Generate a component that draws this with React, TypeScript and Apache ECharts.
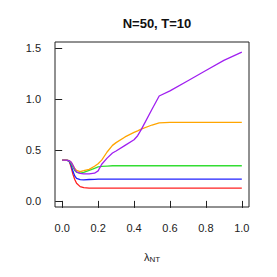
import React, { useEffect, useRef } from "react";
import * as echarts from "echarts";

const lambdas = [0, 0.02, 0.03, 0.04, 0.05, 0.06, 0.07, 0.08, 0.1, 0.12, 0.15, 0.18, 0.2, 0.22, 0.25, 0.28, 0.3, 0.35, 0.4, 0.42, 0.44, 0.5, 0.54, 0.6, 0.7, 0.8, 0.9, 1.0];
const redVals = [0.40, 0.40, 0.398, 0.385, 0.33, 0.26, 0.21, 0.173, 0.14, 0.13, 0.126, 0.125, 0.125, 0.125, 0.125, 0.125, 0.125, 0.125, 0.125, 0.125, 0.125, 0.125, 0.125, 0.125, 0.125, 0.125, 0.125, 0.125];
const blueVals = [0.40, 0.40, 0.398, 0.385, 0.35, 0.29, 0.245, 0.222, 0.208, 0.207, 0.21, 0.212, 0.213, 0.213, 0.213, 0.213, 0.213, 0.213, 0.213, 0.213, 0.213, 0.213, 0.213, 0.213, 0.213, 0.213, 0.213, 0.213];
const greenVals = [0.40, 0.40, 0.398, 0.39, 0.37, 0.33, 0.297, 0.28, 0.272, 0.28, 0.30, 0.32, 0.333, 0.338, 0.342, 0.345, 0.345, 0.345, 0.345, 0.345, 0.345, 0.345, 0.345, 0.345, 0.345, 0.345, 0.345, 0.345];
const orangeVals = [0.40, 0.40, 0.398, 0.395, 0.38, 0.35, 0.318, 0.30, 0.287, 0.296, 0.31, 0.34, 0.365, 0.40, 0.48, 0.545, 0.572, 0.628, 0.672, 0.688, 0.705, 0.745, 0.765, 0.77, 0.77, 0.77, 0.77, 0.77];
const purpleVals = [0.40, 0.40, 0.398, 0.395, 0.38, 0.35, 0.31, 0.285, 0.27, 0.265, 0.265, 0.272, 0.295, 0.36, 0.42, 0.47, 0.49, 0.545, 0.60, 0.64, 0.70, 0.90, 1.03, 1.08, 1.18, 1.28, 1.38, 1.46];

const xTicks = [0, 0.2, 0.4, 0.6, 0.8, 1.0];
const yTicks = [0, 0.5, 1.0, 1.5];

const seriesDefs = [
  { name: "red", color: "#ff2020", vals: redVals },
  { name: "blue", color: "#2020ff", vals: blueVals },
  { name: "green", color: "#33dd33", vals: greenVals },
  { name: "orange", color: "#ffa500", vals: orangeVals },
  { name: "purple", color: "#a020f0", vals: purpleVals },
];

export default function App() {
  const ref = useRef<HTMLDivElement>(null);
  useEffect(() => {
    if (!ref.current) return;
    const chart = echarts.init(ref.current, undefined, { renderer: "svg" });
    const font = "'Liberation Sans', Arial, Helvetica, sans-serif";
    chart.setOption({
      animation: false,
      backgroundColor: "#ffffff",
      title: {
        text: "N=50, T=10",
        left: 152,
        top: 12,
        textAlign: "center",
        textStyle: { fontSize: 13, fontWeight: "bold", color: "#111", fontFamily: font },
      },
      grid: {
        left: 55,
        right: 28,
        top: 42,
        bottom: 70,
        show: true,
        borderColor: "#222",
        borderWidth: 1,
        backgroundColor: "transparent",
      },
      xAxis: {
        type: "value",
        min: -0.04,
        max: 1.04,
        axisLine: { show: false },
        splitLine: { show: false },
        axisTick: { show: true, inside: false, length: 7, lineStyle: { color: "#222", width: 1 }, customValues: xTicks },
        axisLabel: {
          customValues: xTicks,
          formatter: (v: number) => v.toFixed(1),
          fontSize: 11,
          color: "#222",
          fontFamily: font,
          margin: 15,
        },
        name: "{a|λ}{b|NT}",
        nameLocation: "middle",
        nameGap: 43,
        nameTextStyle: {
          rich: {
            a: { fontSize: 11, color: "#222", fontFamily: font },
            b: { fontSize: 8, color: "#222", fontFamily: font, padding: [5, 0, 0, 0] },
          },
        },
      },
      yAxis: {
        type: "value",
        min: -0.06,
        max: 1.56,
        axisLine: { show: false },
        splitLine: { show: false },
        axisTick: { show: true, inside: false, length: 7, lineStyle: { color: "#222", width: 1 }, customValues: yTicks },
        axisLabel: {
          customValues: yTicks,
          formatter: (v: number) => v.toFixed(1),
          fontSize: 11,
          color: "#222",
          fontFamily: font,
          margin: 14,
        },
      },
      series: seriesDefs.map((s) => ({
        name: s.name,
        type: "line",
        data: lambdas.map((x, i) => [x, s.vals[i]]),
        showSymbol: false,
        symbol: "none",
        smooth: false,
        lineStyle: { color: s.color, width: 1.3 },
        itemStyle: { color: s.color },
      })),
    });
    return () => chart.dispose();
  }, []);
  return (
    <div
      ref={ref}
      style={{ position: "fixed", left: 0, top: 0, width: 277, height: 277, background: "#fff" }}
    />
  );
}
